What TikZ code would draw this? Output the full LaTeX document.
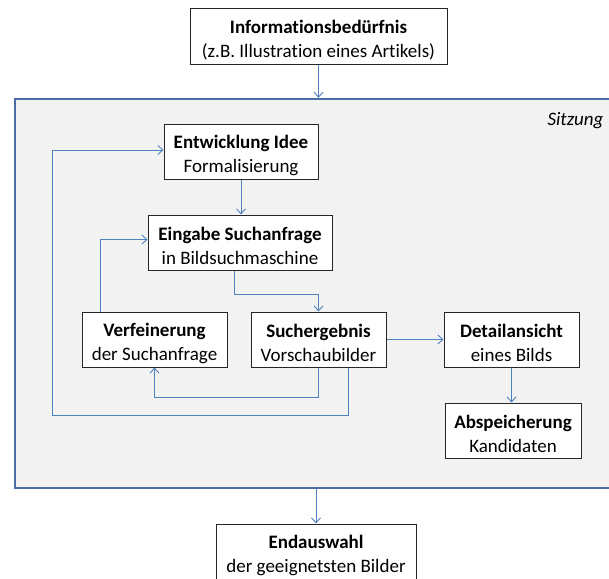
\documentclass[tikz,border=0pt]{standalone}
\usepackage{fontspec}
\setmainfont{Carlito}[RawFeature=-liga]
\usetikzlibrary{arrows.meta}
\definecolor{linkblue}{RGB}{79,129,189}
\definecolor{frameblue}{RGB}{74,110,165}
\definecolor{panelgray}{RGB}{242,242,242}
% bold first line of a step, with a strut that pushes the text block down a little
\newcommand\stephead[1]{\rule{0pt}{21pt}\textbf{#1}}
\tikzset{
  stepbox/.style={draw=black!85, line width=1pt, fill=white, align=center,
    inner sep=2pt, minimum height=55pt,
    font=\fontsize{19pt}{24pt}\selectfont},
  conn/.style={draw=linkblue, line width=0.9pt,
    -{Straight Barb[length=5pt,width=9pt]}},
}
\begin{document}
\begin{tikzpicture}[x=1pt,y=-1pt]
\useasboundingbox (0,0) rectangle (609,578);

% session panel (runs past the right edge)
\node[draw=frameblue, line width=2.4pt, fill=panelgray, minimum width=610pt,
  minimum height=389pt, inner sep=0pt] (sess) at (320,293.5) {};
\node[anchor=east, font=\fontsize{19pt}{24pt}\selectfont\itshape] (sitz) at (607,121) {Sitzung};

% steps
\node[stepbox, minimum width=257pt] (need) at (318.5,36.5)
  {\stephead{Informationsbedürfnis}\\(z.B. Illustration eines Artikels)};
\node[stepbox, minimum width=154pt] (ent) at (241,151.5)
  {\stephead{Entwicklung Idee}\\Formalisierung};
\node[stepbox, minimum width=184pt] (ein) at (240,242.5)
  {\stephead{Eingabe Suchanfrage}\\in Bildsuchmaschine};
\node[stepbox, minimum width=145pt] (ver) at (154.5,339.5)
  {\stephead{Verfeinerung}\\der Suchanfrage};
\node[stepbox, minimum width=135pt] (such) at (318.5,339.5)
  {\stephead{Suchergebnis}\\Vorschaubilder};
\node[stepbox, minimum width=135pt] (det) at (511.5,339.5)
  {\stephead{Detailansicht}\\eines Bilds};
\node[stepbox, minimum width=136pt] (abs) at (513,430.5)
  {\stephead{Abspeicherung}\\Kandidaten};
\node[stepbox, minimum width=200pt] (end) at (316,551.5)
  {\stephead{Endauswahl}\\der geeignetsten Bilder};

% helper points for routed connectors
\coordinate (c1) at (234,294);
\coordinate (c2) at (100,0);
\coordinate (c3) at (318,397);
\coordinate (c4) at (348,415);
\coordinate (c5) at (52,415);

% connectors
\draw[conn] (need.south) -- (need.south |- sess.north);
\draw[conn] (ent.south) -- (ent.south |- ein.north);
\draw[conn] (ein.south -| c1) -- (c1) -| (such.north);
\draw[conn] (ver.north -| c2) |- ([yshift=3pt]ein.west);
\draw[conn] (such.east) -- (det.west);
\draw[conn] (det.south) -- (det.south |- abs.north);
\draw[conn] (such.south -| c3) -- (c3) -| (ver.south);
\draw[conn] (such.south -| c4) -- (c4) -- (c5) |- ([yshift=1.5pt]ent.west);
\draw[conn] (end.north |- sess.south) -- (end.north);
\end{tikzpicture}
\end{document}
